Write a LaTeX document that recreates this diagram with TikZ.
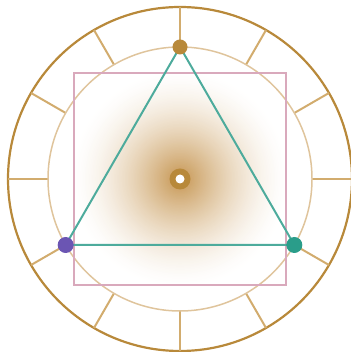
\documentclass[tikz,border=0pt]{standalone}
\usetikzlibrary{calc}
\definecolor{gold}{HTML}{B8893A}
\definecolor{spoke}{HTML}{D2AC6E}
\definecolor{innerc}{HTML}{DFC49C}
\definecolor{sqc}{HTML}{D9A9BC}
\definecolor{tri}{HTML}{4DAB9C}
\definecolor{purp}{HTML}{6B55B3}
\definecolor{tealdot}{HTML}{2A9D8A}
\definecolor{glowc}{HTML}{C69550}
\tikzset{
  dot/.style={circle,inner sep=0pt,minimum size=#1},
}
\begin{document}
\begin{tikzpicture}[x=1pt,y=1pt]
\useasboundingbox (0,0) rectangle (350,352);
\coordinate (c) at (180,173);
\foreach \i in {0,...,71}{
  \pgfmathsetmacro\xx{\i/72}
  \pgfmathsetmacro\rr{110*(1-\xx)}
  \pgfmathsetmacro\pp{100*(\xx)^1.6}
  \fill[glowc!\pp!white] (c) circle[radius=\rr];
}
\draw[gold,line width=2.2] (c) circle[radius=172];
\foreach \a in {0,30,...,330}
  \draw[spoke,line width=2] ($(c)+(\a:132)$) -- ($(c)+(\a:172)$);
\draw[innerc,line width=1.5] (c) circle[radius=132];
\draw[sqc,line width=2] ($(c)+(-106,-106)$) rectangle ($(c)+(106,106)$);
\coordinate (t) at ($(c)+(90:132)$);
\coordinate (l) at ($(c)+(210:132)$);
\coordinate (r) at ($(c)+(-30:132)$);
\draw[tri,line width=2,line join=miter] (t) -- (l) -- (r) -- cycle;
\node[dot=15,fill=gold] (nt) at (t) {};
\node[dot=16,fill=purp] (nl) at (l) {};
\node[dot=16,fill=tealdot] (nr) at (r) {};
\node[dot=21,fill=gold] (nc) at (c) {};
\node[dot=9,fill=white] (ncw) at (c) {};
\end{tikzpicture}
\end{document}
